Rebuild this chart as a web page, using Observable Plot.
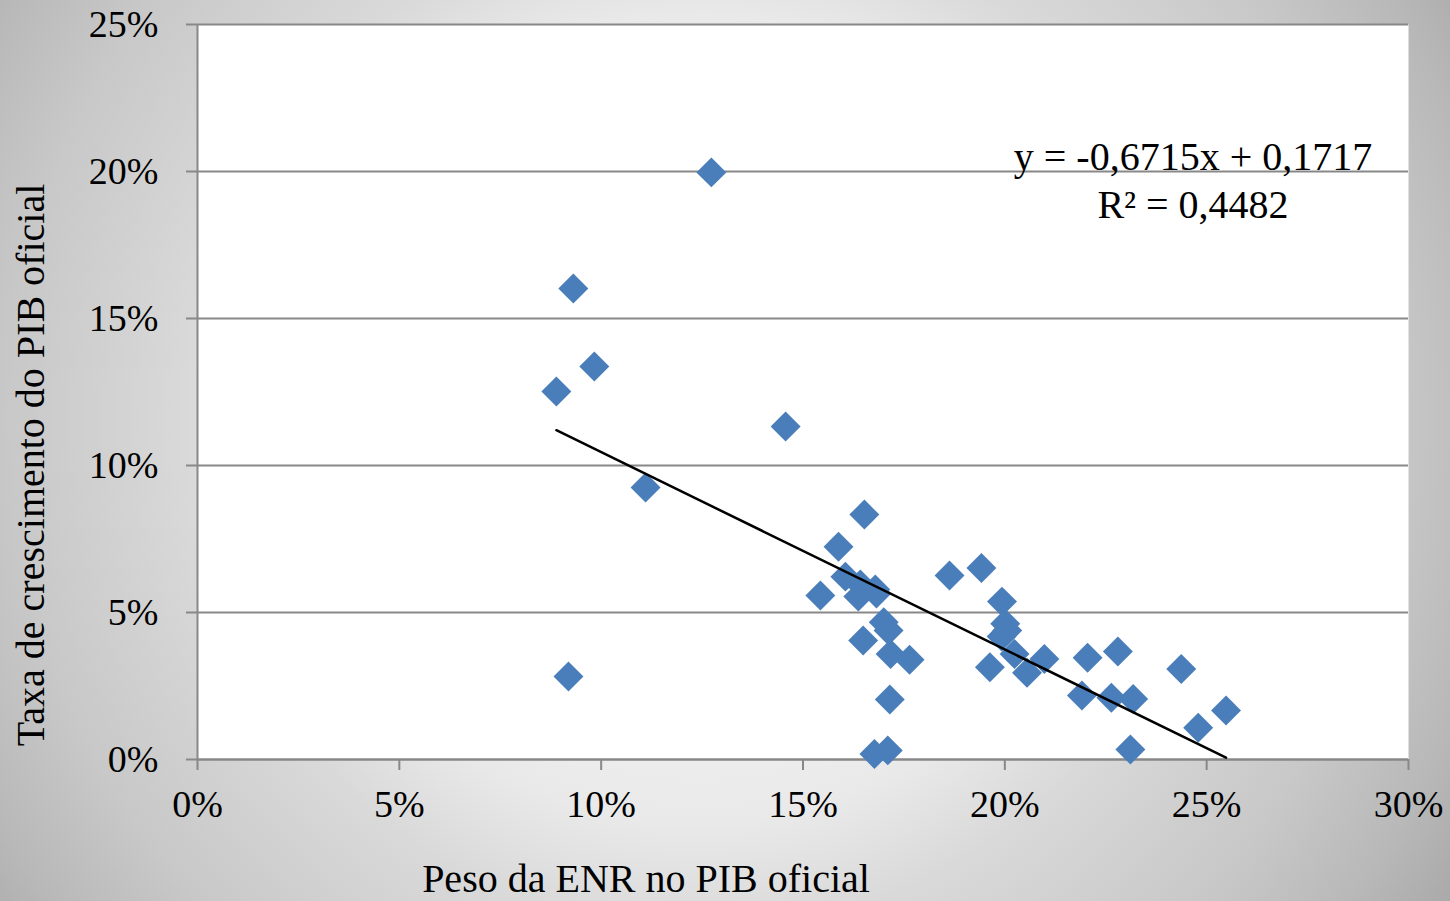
<!DOCTYPE html>
<html>
<head>
<meta charset="utf-8">
<script src="https://cdn.jsdelivr.net/npm/d3@7"></script>
<script src="https://cdn.jsdelivr.net/npm/@observablehq/plot@0.6"></script>
<style>
  html, body { margin: 0; padding: 0; }
  #chart {
    width: 1450px; height: 901px; overflow: hidden;
    background: radial-gradient(circle 900px at 700px 420px, #f4f4f4 0%, #f1f1f1 30%, #e9e9e9 45%, #d9d9d9 57%, #c8c8c8 77%, #b8b8b8 90%, #a8a8a8 100%);
  }
  #chart svg { display: block; }
</style>
</head>
<body>
<div id="chart"></div>
<script>
// Peso da ENR no PIB oficial (%)
const xs = [8.89, 9.31, 9.83, 9.19, 11.10, 12.73, 14.57, 16.52, 15.88, 15.43,
            16.05, 16.42, 16.79, 16.37, 16.82, 17.00, 17.12, 16.49, 17.17, 17.64,
            17.15, 16.77, 17.10, 18.63, 19.42, 19.93, 20.01, 20.06, 19.92, 20.24,
            19.63, 20.55, 20.98, 22.05, 22.80, 21.91, 22.64, 23.18, 23.11, 24.37,
            24.79, 25.48];
// Taxa de crescimento do PIB oficial (%)
const ys = [12.52, 16.02, 13.37, 2.82, 9.25, 19.97, 11.33, 8.33, 7.24, 5.58,
            6.22, 5.95, 5.78, 5.54, 5.65, 4.67, 4.39, 4.05, 3.59, 3.39,
            2.04, 0.19, 0.31, 6.26, 6.51, 5.37, 4.62, 4.39, 4.18, 3.59,
            3.14, 2.95, 3.42, 3.46, 3.67, 2.18, 2.10, 2.06, 0.34, 3.08,
            1.08, 1.67];
const xTicks = [0, 5, 10, 15, 20, 25, 30];
const yTicks = [0, 5, 10, 15, 20, 25];
const slope = -0.6715;
const intercept = 0.1717;
const eqLines = ["y = -0,6715x + 0,1717", "R² = 0,4482"];
const xTitle = "Peso da ENR no PIB oficial";
const yTitle = "Taxa de crescimento do PIB oficial";

const points = xs.map((x, i) => ({x, y: ys[i]}));
const trend = d3.extent(xs).map(x => ({x, y: slope * x + intercept * 100}));
const pct = d => d + "%";
const grey = "#888888";

const chart = Plot.plot({
  width: 1450,
  height: 901,
  marginLeft: 197,
  marginRight: 42,
  marginTop: 24,
  marginBottom: 142,
  x: {domain: [0, 30]},
  y: {domain: [0, 25]},
  style: {
    background: "transparent",
    fontFamily: "'Liberation Serif', 'Times New Roman', serif",
    fontSize: "38px",
    color: "black",
    overflow: "visible"
  },
  marks: [
    Plot.frame({fill: "white", stroke: "none"}),
    Plot.gridY(yTicks, {stroke: grey, strokeOpacity: 1, strokeWidth: 2}),
    Plot.ruleY([0], {stroke: grey, strokeWidth: 2}),
    Plot.ruleX([0], {stroke: grey, strokeWidth: 2}),
    Plot.axisY(yTicks, {tickSize: 11, tickPadding: 28, stroke: grey, strokeWidth: 2, color: "black", tickFormat: pct, label: null}),
    Plot.axisX(xTicks, {tickSize: 11, tickPadding: 20, stroke: grey, strokeWidth: 2, color: "black", tickFormat: pct, label: null}),
    Plot.dot(points, {x: "x", y: "y", symbol: "diamond2", r: 13.5, fill: "#4a7ebb", stroke: "none"}),
    Plot.line(trend, {x: "x", y: "y", stroke: "black", strokeWidth: 2.5})
  ]
});

const svg = d3.select(chart);
const font = "'Liberation Serif', 'Times New Roman', serif";
svg.append("text")
  .attr("x", 1193).attr("y", 170)
  .attr("text-anchor", "middle").attr("font-family", font).attr("font-size", 40).attr("fill", "black")
  .text(eqLines[0]);
svg.append("text")
  .attr("x", 1193).attr("y", 218)
  .attr("text-anchor", "middle").attr("font-family", font).attr("font-size", 40).attr("fill", "black")
  .text(eqLines[1]);
svg.append("text")
  .attr("x", 646).attr("y", 892)
  .attr("text-anchor", "middle").attr("font-family", font).attr("font-size", 40).attr("fill", "black")
  .text(xTitle);
svg.append("text")
  .attr("transform", "translate(44,465) rotate(-90)")
  .attr("text-anchor", "middle").attr("font-family", font).attr("font-size", 40).attr("fill", "black")
  .text(yTitle);

document.getElementById("chart").appendChild(chart);
</script>
</body>
</html>
